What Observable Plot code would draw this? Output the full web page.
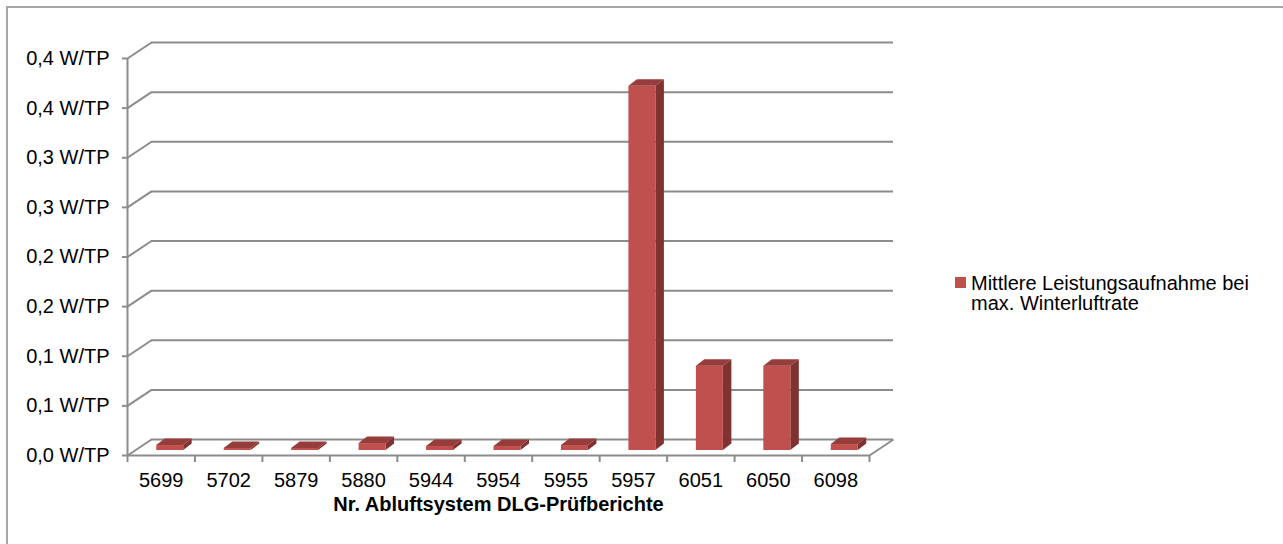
<!DOCTYPE html>
<html>
<head>
<meta charset="utf-8">
<script src="https://cdn.jsdelivr.net/npm/d3@7"></script>
<script src="https://cdn.jsdelivr.net/npm/@observablehq/plot@0.6"></script>
<style>
  html, body { margin: 0; padding: 0; background: #fff; overflow: hidden; }
  #wrap { position: relative; width: 1283px; height: 544px; overflow: hidden; background: #fff;
          font-family: "Liberation Sans", Arial, sans-serif; }
  #border { position: absolute; left: 6px; top: 6px; width: 1320px; height: 600px; border: 2px solid #a6a6a6; box-sizing: border-box; }
  #chart { position: absolute; left: 0; top: 0; }
  #legend { position: absolute; left: 955px; top: 273px; font-size: 20px; line-height: 20px; color: #000; }
  #legend .sw { position: absolute; left: 0; top: 4px; width: 11px; height: 11px; background: #c0504d; }
  #legend .tx { margin-left: 16px; width: 320px; }
</style>
</head>
<body>
<div id="wrap">
  <div id="border"></div>
  <div id="chart"></div>
  <div id="legend"><div class="sw"></div><div class="tx" id="legtext"></div></div>
</div>
<script>
// ---- data ----
const categories = ["5699", "5702", "5879", "5880", "5944", "5954", "5955", "5957", "6051", "6050", "6098"];
const values = [0.005, 0.002, 0.002, 0.007, 0.004, 0.004, 0.005, 0.367, 0.085, 0.085, 0.006];
const yTicks = [0, 0.05, 0.1, 0.15, 0.2, 0.25, 0.3, 0.35, 0.4];
const yTickLabels = ["0,0 W/TP", "0,1 W/TP", "0,1 W/TP", "0,2 W/TP", "0,2 W/TP", "0,3 W/TP", "0,3 W/TP", "0,4 W/TP", "0,4 W/TP"];
const seriesLine1 = "Mittlere Leistungsaufnahme bei";
const seriesLine2 = "max. Winterluftrate";
const xTitle = "Nr. Abluftsystem DLG-Prüfberichte";

// ---- layout ----
const W = 1283, H = 544;
const mL = 127, mR = 414, mT = 58, mB = 89;
const n = categories.length;
const yMax = 0.4;
const kx = (W - mL - mR) / n;      // px per x unit
const ky = (H - mT - mB) / yMax;   // px per y unit
const WALL_DX = 24, WALL_DY = 16;  // depth of the 3D floor/back wall, px
const BAR_OX = 9, BAR_OY = 5;      // offset of bar front face, px
const BAR_DX = 8.5, BAR_DY = 6.5;  // bar depth, px
const wdx = WALL_DX / kx, wdy = WALL_DY / ky;
const bdx = BAR_DX / kx, bdy = BAR_DY / ky;
const grid = "#8c8c8c";

const rows = categories.map((c, i) => ({i, c, v: values[i]}));
const sidePts = rows.flatMap(d => [
  {i: d.i, x: d.i + 0.7, y1: 0, y2: d.v},
  {i: d.i, x: d.i + 0.7 + bdx, y1: bdy, y2: d.v + bdy}
]);
const topPts = rows.flatMap(d => [
  {i: d.i, y: d.v, x1: d.i + 0.3, x2: d.i + 0.7},
  {i: d.i, y: d.v + bdy, x1: d.i + 0.3 + bdx, x2: d.i + 0.7 + bdx}
]);

const chart = Plot.plot({
  width: W, height: H,
  marginLeft: mL, marginRight: mR, marginTop: mT, marginBottom: mB,
  style: {fontFamily: '"Liberation Sans", Arial, sans-serif', fontSize: "20px", color: "#000", background: "transparent", overflow: "visible"},
  x: {domain: [0, n]},
  y: {domain: [0, yMax]},
  marks: [
    // back wall gridlines
    Plot.ruleY(yTicks, {x1: 0, x2: n, dx: WALL_DX, dy: -WALL_DY, stroke: grid, strokeWidth: 2}),
    // side wall diagonals
    Plot.link(yTicks, {x1: 0, x2: wdx, y1: d => d, y2: d => d + wdy, stroke: grid, strokeWidth: 2}),
    // floor front edge and right diagonal
    Plot.ruleY([0], {x1: 0, x2: n, stroke: grid, strokeWidth: 2}),
    Plot.link([0], {x1: n, x2: n + wdx, y1: 0, y2: wdy, stroke: grid, strokeWidth: 2}),
    // vertical axis line
    Plot.ruleX([0], {y1: 0, y2: yMax, stroke: grid, strokeWidth: 2}),
    // axes
    Plot.axisY({ticks: yTicks, tickSize: 5, tickPadding: 13, stroke: grid, strokeWidth: 2, fill: "#000", fontSize: 20,
      tickFormat: d => yTickLabels[yTicks.indexOf(d)]}),
    Plot.axisX({ticks: d3.range(n + 1), tickSize: 7, stroke: grid, strokeWidth: 2, tickFormat: () => ""}),
    Plot.axisX({ticks: d3.range(n).map(i => i + 0.5), tickSize: 0, tickPadding: 17, fill: "#000", fontSize: 20,
      tickFormat: d => categories[Math.floor(d)]}),
    Plot.text([xTitle], {frameAnchor: "bottom", dy: 55, fontWeight: "bold", fontSize: 20, fill: "#000"}),
    // 3D bars
    Plot.areaY(sidePts, {x: "x", y1: "y1", y2: "y2", z: "i", fill: "#7f3230", dx: BAR_OX, dy: -BAR_OY}),
    Plot.rect(rows, {x1: d => d.i + 0.3, x2: d => d.i + 0.7, y1: 0, y2: "v", fill: "#c0504d", dx: BAR_OX, dy: -BAR_OY}),
    Plot.areaX(topPts, {y: "y", x1: "x1", x2: "x2", z: "i", fill: "#963c3a", dx: BAR_OX, dy: -BAR_OY})
  ]
});
document.getElementById("chart").appendChild(chart);
document.getElementById("legtext").innerHTML = seriesLine1 + "<br>" + seriesLine2;
</script>
</body>
</html>
